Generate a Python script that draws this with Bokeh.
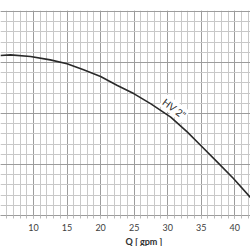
from bokeh.plotting import figure
from bokeh.models import Range1d, SingleIntervalTicker, Title, ColumnDataSource
from bokeh.core.properties import value
from bokeh.embed import file_html
from bokeh.resources import INLINE

# Curve (Q in gpm, head in grid units)
q = [5.07, 6.57, 9.55, 12.5, 15.0, 17.46, 20.0, 22.5, 25.0, 27.5, 30.45, 32.94, 34.93, 37.4, 39.8, 42.4]
head = [15.69, 15.75, 15.59, 15.26, 14.87, 14.28, 13.63, 12.75, 11.93, 10.95, 9.64, 8.17, 6.86, 5.23, 3.63, 1.72]
curve_label = ['HV 2"']
label_x = [31.0]
label_y = [10.5]
x_title = "Q [ gpm ]"

p = figure(frame_width=250, frame_height=205, output_backend="svg", toolbar_location=None,
           x_range=Range1d(5.08, 42.34), y_range=Range1d(0, 20.1),
           y_axis_location=None, min_border_left=0, min_border_right=0,
           min_border_top=10, min_border_bottom=0)
p.outline_line_color = None
p.background_fill_color = "white"
p.border_fill_color = "white"

xt = SingleIntervalTicker(interval=5, num_minor_ticks=5)
yt = SingleIntervalTicker(interval=5, num_minor_ticks=5)
p.xaxis.ticker = xt
p.xgrid.ticker = xt
p.ygrid.ticker = yt

for g in (p.xgrid, p.ygrid):
    g.grid_line_color = "#9c9c9c"
    g.grid_line_width = 1
    g.minor_grid_line_color = "#c8c8c8"
    g.minor_grid_line_width = 1

ax = p.xaxis[0]
ax.axis_line_color = "#9c9c9c"
ax.major_tick_line_color = "#9c9c9c"
ax.minor_tick_line_color = "#bbbbbb"
ax.major_tick_in = 0
ax.major_tick_out = 3
ax.minor_tick_in = 0
ax.minor_tick_out = 3
ax.major_label_text_font = "Lato"
ax.major_label_text_font_size = "9px"
ax.major_label_text_color = "#404040"
ax.major_label_standoff = 5

p.line(q, head, line_color="#2a2a2a", line_width=1.6)

src = ColumnDataSource(dict(x=label_x, y=label_y, t=curve_label))
p.text(x="x", y="y", text="t", source=src, angle=-0.64,
       text_align="center", text_baseline="middle",
       text_font=value("Lato"), text_font_size="10px", text_color="#303030",
       background_fill_color="white", padding=1)

p.add_layout(Title(text=x_title, align="left", offset=125, text_font="Lato",
                   text_font_size="9px", text_font_style="bold",
                   text_color="#303030", standoff=0), "below")

open("out.html", "w").write(file_html(p, INLINE))
